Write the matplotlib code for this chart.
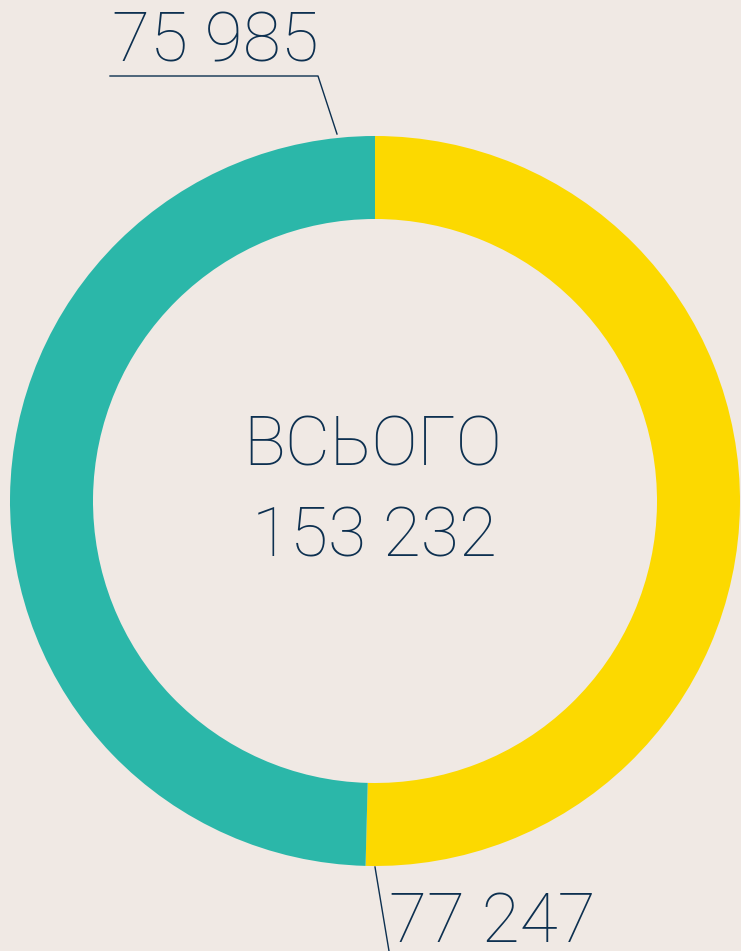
import matplotlib.pyplot as plt

# data
values = [77247, 75985]
labels = ['77 247', '75 985']
colors = ['#fcd900', '#2bb7a9']
total_label = 'ВСЬОГО'
total_value = '153 232'

bg = '#f0e9e4'
navy = '#0d3050'

W, H = 741, 951
fig = plt.figure(figsize=(W / 100, H / 100), dpi=100)
fig.patch.set_facecolor(bg)
ax = fig.add_axes([0, 0, 1, 1])
ax.set_facecolor(bg)

cx, cy, r = 375, H - 501, 365
ax.pie(values, colors=colors, startangle=90, counterclock=False,
       center=(cx, cy), radius=r, frame=True,
       wedgeprops=dict(width=83, linewidth=0))
ax.set_xlim(0, W)
ax.set_ylim(0, H)
ax.set_aspect('equal')
ax.axis('off')

font = dict(family=['Roboto', 'DejaVu Sans'], fontweight='light', color=navy,
            ha='center', va='center', fontsize=50)

# centre text
ax.text(373, H - 447, total_label, **font)
ax.text(374, H - 538, total_value, **font)

# top label with leader line
ax.plot([110, 318, 337], [H - 76, H - 76, H - 134], color=navy, lw=1.0)
ax.text(215, H - 43, labels[1], **font)

# bottom label with leader line
ax.plot([375, 389], [H - 867, H - 951], color=navy, lw=1.0)
ax.text(492, H - 923, labels[0], **font)

fig.savefig('out.png', dpi=100, facecolor=bg)
